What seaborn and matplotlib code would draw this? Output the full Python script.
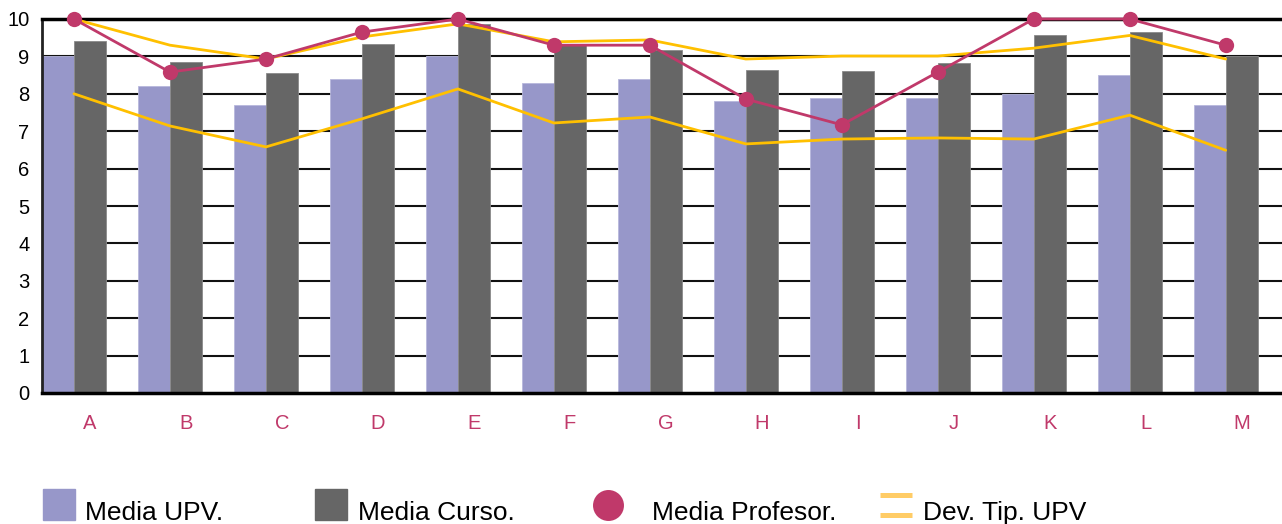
import numpy as np
import pandas as pd
import seaborn as sns
import matplotlib.pyplot as plt
from matplotlib.lines import Line2D
from matplotlib.patches import Rectangle

# Datos
categorias = ['A', 'B', 'C', 'D', 'E', 'F', 'G', 'H', 'I', 'J', 'K', 'L', 'M']
media_upv = [9.0, 8.2, 7.7, 8.4, 9.0, 8.3, 8.4, 7.8, 7.9, 7.9, 8.0, 8.5, 7.7]
media_curso = [9.4, 8.85, 8.56, 9.33, 9.87, 9.3, 9.17, 8.64, 8.61, 8.82, 9.57, 9.65, 9.0]
media_profesor = [10.0, 8.58, 8.93, 9.65, 10.0, 9.3, 9.3, 7.86, 7.17, 8.58, 10.0, 10.0, 9.3]
dev_sup = [10.0, 9.3, 8.93, 9.52, 9.87, 9.39, 9.44, 8.93, 9.01, 9.01, 9.22, 9.56, 8.93]
dev_inf = [8.0, 7.14, 6.58, 7.33, 8.13, 7.22, 7.38, 6.66, 6.79, 6.82, 6.79, 7.43, 6.49]

C_UPV = '#9797c9'
C_CURSO = '#666666'
C_PROF = '#c0396a'
C_DEV = '#ffc000'

W, H = 1282, 524

sns.set_style('white')
plt.rcParams['font.family'] = ['Liberation Sans', 'DejaVu Sans']

pos = np.arange(len(categorias))
df = pd.DataFrame({
    'x_upv': pos - 1/3,
    'x_curso': pos.astype(float),
    'x_linea': pos - 1/6,
    'upv': media_upv,
    'curso': media_curso,
    'prof': media_profesor,
    'sup': dev_sup,
    'inf': dev_inf,
})

fig = plt.figure(figsize=(W/100, H/100), dpi=100)
ax = fig.add_axes([42/W, 131/H, 1240/W, 374/H])

# lineas horizontales
for v in range(1, 10):
    ax.axhline(v, color='#111111', lw=1.5, zorder=0)

sns.barplot(data=df, x='x_upv', y='upv', native_scale=True, width=1/3,
            color=C_UPV, saturation=1, edgecolor='#b8b8dc', linewidth=0.6, ax=ax, zorder=2)
sns.barplot(data=df, x='x_curso', y='curso', native_scale=True, width=1/3,
            color=C_CURSO, saturation=1, edgecolor='#8a8a8a', linewidth=0.6, ax=ax, zorder=2)

sns.lineplot(data=df, x='x_linea', y='sup', color=C_DEV, lw=2, ax=ax, zorder=3)
sns.lineplot(data=df, x='x_linea', y='inf', color=C_DEV, lw=2, ax=ax, zorder=3)
sns.lineplot(data=df, x='x_linea', y='prof', color=C_PROF, lw=2, marker='o',
             markersize=11, markeredgewidth=0, ax=ax, zorder=4, clip_on=False)

ax.set_xlim(-0.5, 12.42)
ax.set_ylim(0, 10)
ax.set_yticks(range(0, 11))
ax.set_xticks(pos)
ax.set_xticklabels(categorias)
ax.set_xlabel('')
ax.set_ylabel('')
ax.tick_params(axis='y', length=0, pad=9, labelsize=14.5, labelcolor='black')
ax.tick_params(axis='x', length=0, pad=15, labelsize=14.5, labelcolor=C_PROF)

for s in ['top', 'bottom']:
    ax.spines[s].set_color('black')
    ax.spines[s].set_linewidth(2.5)
ax.spines['left'].set_color('#222222')
ax.spines['left'].set_linewidth(2)
ax.spines['right'].set_visible(False)


# leyenda dibujada a mano (coordenadas en pixeles desde arriba)
def fx(x):
    return x / W


def fy(y):
    return (H - y) / H


fig.add_artist(Rectangle((fx(43), fy(520)), 32/W, 31/H, color=C_UPV, transform=fig.transFigure))
fig.add_artist(Rectangle((fx(315), fy(520)), 32/W, 31/H, color=C_CURSO, transform=fig.transFigure))
fig.add_artist(Line2D([fx(607.5)], [fy(504.5)], ls='', marker='o', color=C_PROF,
                      markersize=22.3, markeredgewidth=0, transform=fig.transFigure))
for yy in (494.5, 514.5):
    fig.add_artist(Line2D([fx(880), fx(912)], [fy(yy), fy(yy)], color='#ffcc66', lw=3.6,
                          solid_capstyle='butt', transform=fig.transFigure))

for x, lab in [(85, 'Media UPV.'), (358, 'Media Curso.'), (652, 'Media Profesor.'), (923, 'Dev. Tip. UPV')]:
    fig.text(fx(x), fy(520), lab, fontsize=19, color='black', va='baseline', ha='left')

fig.savefig('out.png', dpi=100)
